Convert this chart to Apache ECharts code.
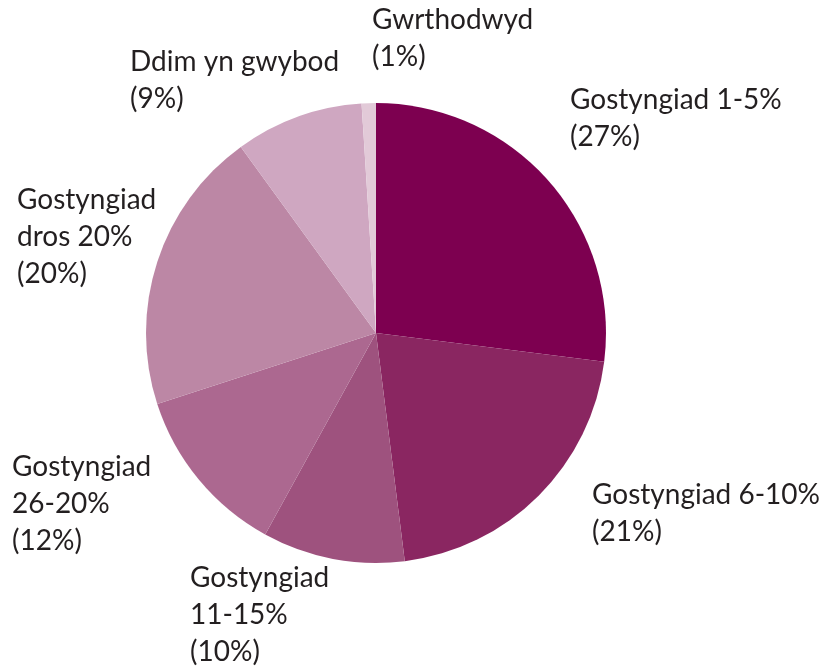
<!DOCTYPE html>
<html>
<head>
<meta charset="utf-8">
<script src="https://cdn.jsdelivr.net/npm/echarts@6/dist/echarts.min.js"></script>
<style>
  html, body { margin: 0; padding: 0; background: #fff; }
  #chart { width: 830px; height: 668px; }
</style>
</head>
<body>
<div id="chart"></div>
<script>
const categories = [
  'Gostyngiad 1-5%',
  'Gostyngiad 6-10%',
  'Gostyngiad\n11-15%',
  'Gostyngiad\n26-20%',
  'Gostyngiad\ndros 20%',
  'Ddim yn gwybod',
  'Gwrthodwyd'
]
const values = [27, 21, 10, 12, 20, 9, 1]
const colors = ['#7D0050', '#8A2661', '#9E527E', '#AC6890', '#BC87A5', '#CFA7C1', '#E2CAD8']
// top-left corner of each label block
const labelPos = [
  [570, 81], [592, 476], [190, 559], [12, 448], [17, 181], [130, 43], [372, 1]
]

const chart = echarts.init(document.getElementById('chart'))

const option = {
  backgroundColor: '#fff',
  animation: false,
  series: [
    {
      type: 'pie',
      center: [376, 333],
      radius: 230,
      startAngle: 90,
      clockwise: true,
      data: categories.map((name, i) => ({
        name: name,
        value: values[i],
        itemStyle: { color: colors[i] }
      })),
      label: {
        show: true,
        formatter: (p) => p.name + '\n(' + p.value + '%)',
        fontFamily: 'Lato',
        fontSize: 28,
        lineHeight: 37,
        color: '#231F20',
        align: 'left',
        overflow: 'none',
        width: 300
      },
      labelLine: { show: false },
      labelLayout: (params) => {
        const pos = labelPos[params.dataIndex]
        return {
          x: pos[0],
          y: pos[1],
          align: 'left',
          verticalAlign: 'top'
        }
      }
    }
  ]
}

chart.setOption(option)
</script>
</body>
</html>
